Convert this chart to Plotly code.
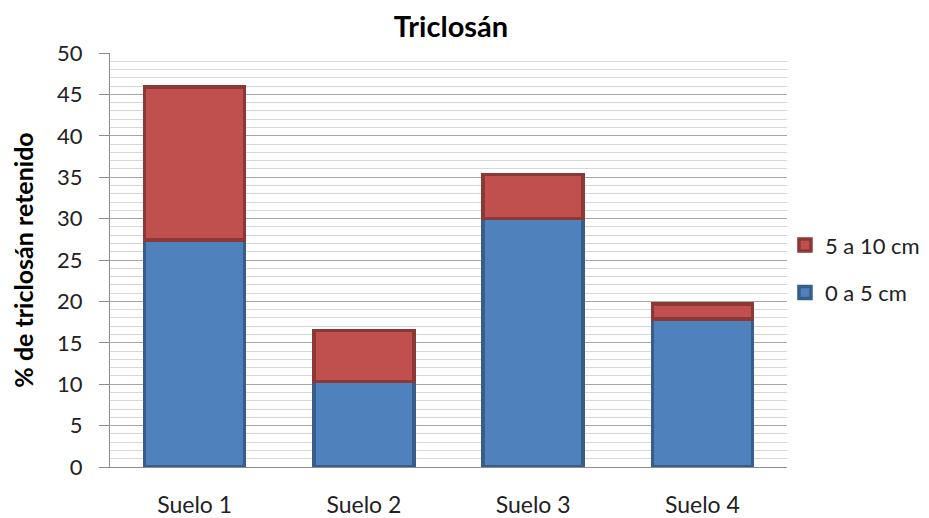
import plotly.graph_objects as go

categories = ["Suelo 1", "Suelo 2", "Suelo 3", "Suelo 4"]
capa_0_5 = [27.4, 10.3, 30.0, 17.9]
capa_5_10 = [18.5, 6.2, 5.3, 1.8]
y_ticks = [0, 5, 10, 15, 20, 25, 30, 35, 40, 45, 50]

font_fam = "Lato, 'Noto Sans', sans-serif"

fig = go.Figure()
fig.add_trace(go.Bar(
    x=categories, y=capa_0_5, name="0 a 5 cm", legendgroup="a", legendrank=2,
    marker=dict(color="#4F81BD", line=dict(color="#385D8A", width=3.5)),
    width=0.59,
))
fig.add_trace(go.Bar(
    x=categories, y=capa_5_10, name="5 a 10 cm", legendgroup="b", legendrank=1,
    marker=dict(color="#C0504D", line=dict(color="#8C3836", width=3.5)),
    width=0.59,
))

fig.update_layout(
    width=929, height=518,
    barmode="stack",
    paper_bgcolor="white", plot_bgcolor="white",
    margin=dict(l=102, r=145, t=45, b=59),
    font=dict(family=font_fam, size=22, color="#222222"),
    title=dict(text="<b>Triclosán</b>", x=443 / 929, xanchor="center",
               y=1 - 19 / 518, yanchor="middle",
               font=dict(size=29, color="#000000")),
    legend=dict(x=0.997, xanchor="left", y=0.478, yanchor="middle",
                traceorder="grouped", tracegroupgap=16, bgcolor="rgba(0,0,0,0)",
                font=dict(size=22, color="#222222"), itemwidth=30),
    showlegend=True,
)
fig.update_yaxes(
    range=[0, 50], tickvals=y_ticks, showline=True, linecolor="#8c8c8c", linewidth=1,
    ticks="outside", ticklen=10, tickcolor="#8c8c8c", ticklabelstandoff=12,
    showgrid=True, gridcolor="#a6a6a6", gridwidth=1,
    minor=dict(dtick=1, showgrid=True, gridcolor="#d6d6d6", gridwidth=1),
    zeroline=False, automargin=False,
    title=dict(text="<b>% de triclosán retenido</b>", standoff=28, font=dict(size=25, color="#000000")),
)
fig.update_xaxes(
    showline=True, linecolor="#8c8c8c", linewidth=1, ticks="", showgrid=False,
    ticklabelstandoff=17, automargin=False, tickfont=dict(size=23),
)

fig.write_html("out.html")
